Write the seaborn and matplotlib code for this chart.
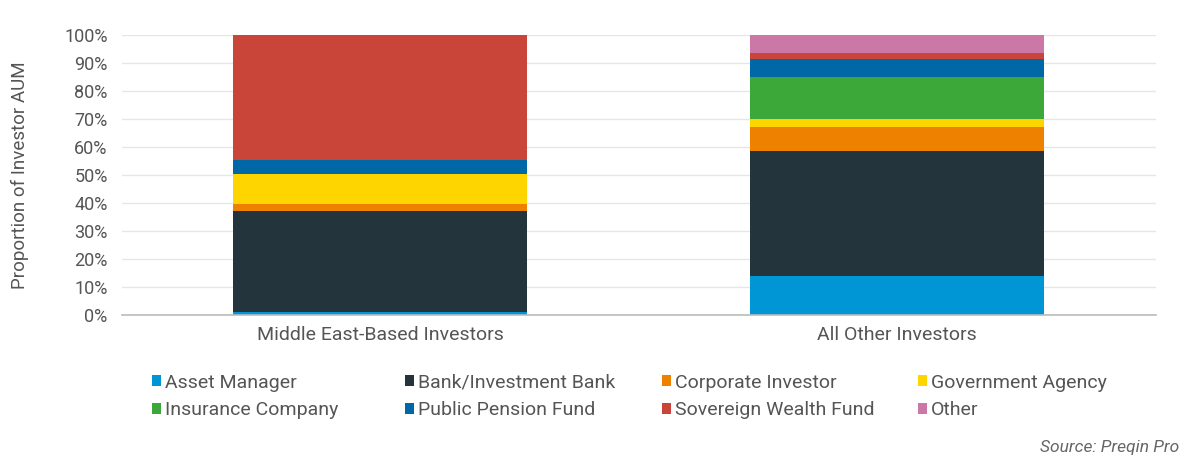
import numpy as np
import pandas as pd
import matplotlib
matplotlib.use("Agg")
import matplotlib.pyplot as plt
from matplotlib.patches import Patch
import seaborn as sns

groups = ["Middle East-Based Investors", "All Other Investors"]
investor_types = ["Asset Manager", "Bank/Investment Bank", "Corporate Investor",
                  "Government Agency", "Insurance Company", "Public Pension Fund",
                  "Sovereign Wealth Fund", "Other"]
asset_manager = [1.0, 14.0]
bank = [36.0, 44.4]
corporate = [2.5, 8.9]
government = [11.0, 2.8]
insurance = [0.0, 14.9]
public_pension = [5.0, 6.3]
sovereign = [44.5, 2.1]
other = [0.0, 6.6]
yticks = [0, 10, 20, 30, 40, 50, 60, 70, 80, 90, 100]

colors = ["#0096d6", "#24343c", "#ee8100", "#ffd500",
          "#3ca83a", "#0068a6", "#c9453a", "#cc78a6"]

series = [asset_manager, bank, corporate, government, insurance,
          public_pension, sovereign, other]

sns.set_theme(style="white")
plt.rcParams["font.family"] = ["Roboto", "DejaVu Sans"]

fig = plt.figure(figsize=(12, 4.75), dpi=100)
ax = fig.add_axes([121.5 / 1200, 160 / 475, 1034 / 1200, 280 / 475])

bottoms = np.zeros(len(groups))
for name, vals, col in zip(investor_types, series, colors):
    df = pd.DataFrame({"group": groups, "value": vals})
    sns.barplot(data=df, x="group", y="value", bottom=bottoms, color=col,
                width=0.57, linewidth=0, saturation=1, ax=ax, errorbar=None)
    bottoms = bottoms + np.array(vals)

ax.set_xlim(-0.5, 1.5)
ax.set_ylim(0, 100)
ax.set_yticks(yticks)
ax.set_yticklabels([f"{t}%" for t in yticks], fontsize=13, color="#555555")
ax.tick_params(axis="x", labelsize=14, colors="#555555", length=0, pad=8)
ax.tick_params(axis="y", length=0, pad=10)
ax.set_xlabel("")
ax.set_ylabel("Proportion of Investor AUM", fontsize=13.5, color="#555555", labelpad=25)
ax.yaxis.grid(True, color="#e6e6e6", linewidth=1)
ax.set_axisbelow(True)
for s in ["top", "right", "left"]:
    ax.spines[s].set_visible(False)
ax.spines["bottom"].set_color("#bbbbbb")
ax.spines["bottom"].set_linewidth(1.2)

# legend: four columns of two entries, laid out row-wise like the reference
handles = [Patch(facecolor=c, edgecolor="none", label=n) for n, c in zip(investor_types, colors)]
col_x = [152, 405, 662, 918]
for ci, x0 in enumerate(col_x):
    idx = [ci, ci + 4]
    leg = fig.legend([handles[i] for i in idx], [investor_types[i] for i in idx],
                     ncol=1, loc="upper left", bbox_to_anchor=(x0 / 1200, 1 - 373.5 / 475),
                     frameon=False, fontsize=14, handlelength=0.45, handleheight=0.45,
                     handletextpad=0.2, labelspacing=0.5,
                     borderpad=0.0, borderaxespad=0.0)
    for t in leg.get_texts():
        t.set_color("#555555")

fig.text(0.983, 0.057, "Source: Preqin Pro", ha="right", va="center",
         fontsize=12.5, style="italic", color="#666666")

fig.savefig("out.png", dpi=100)
